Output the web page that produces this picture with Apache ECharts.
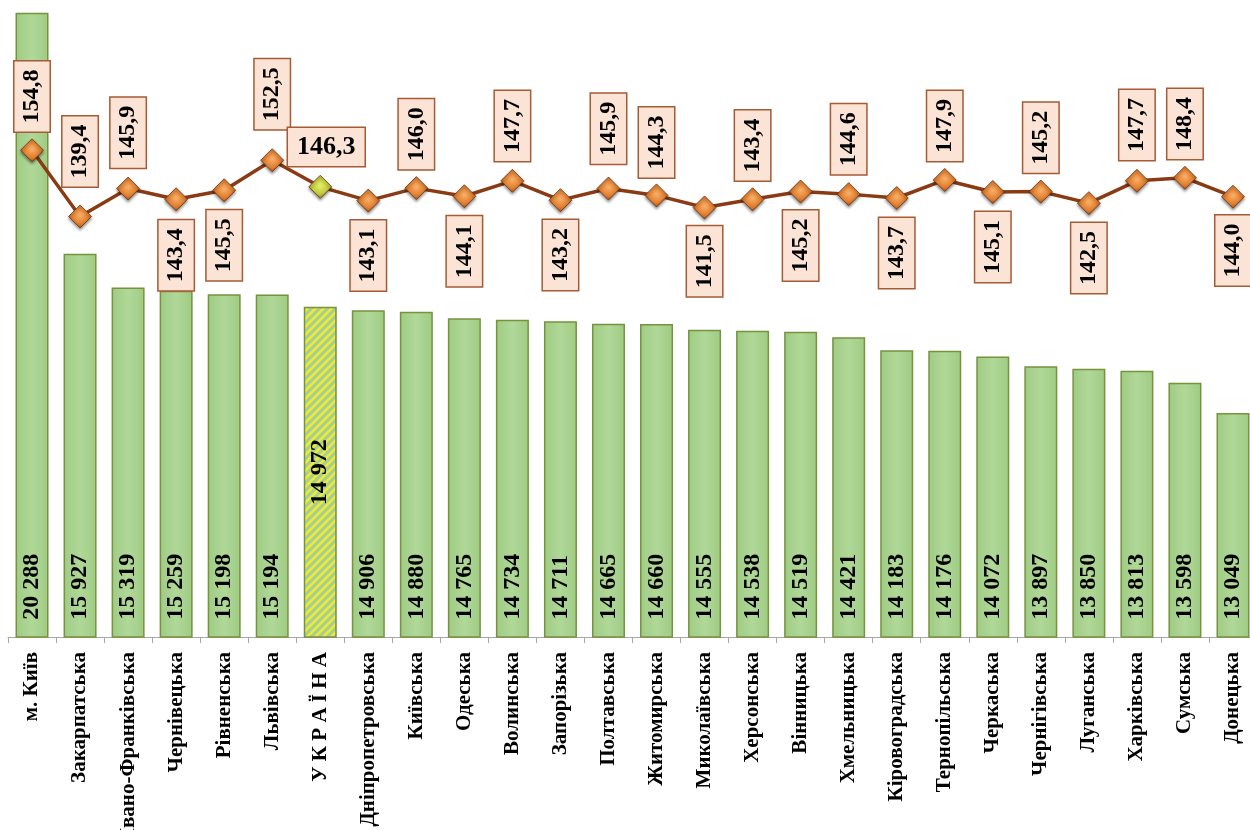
<!DOCTYPE html>
<html>
<head>
<meta charset="utf-8">
<script src="https://cdn.jsdelivr.net/npm/echarts@6/dist/echarts.min.js"></script>
<style>
html,body{margin:0;padding:0;background:#fff;}
#chart{width:1250px;height:830px;}
</style>
</head>
<body>
<div id="chart"></div>
<script>
const categories = ['м. Київ','Закарпатська','Івано-Франківська','Чернівецька','Рівненська','Львівська','У К Р А Ї Н А','Дніпропетровська','Київська','Одеська','Волинська','Запорізька','Полтавська','Житомирська','Миколаївська','Херсонська','Вінницька','Хмельницька','Кіровоградська','Тернопільська','Черкаська','Чернігівська','Луганська','Харківська','Сумська','Донецька'];
const barValues = [20288,15927,15319,15259,15198,15194,14972,14906,14880,14765,14734,14711,14665,14660,14555,14538,14519,14421,14183,14176,14072,13897,13850,13813,13598,13049];
const lineValues = [154.8,139.4,145.9,143.4,145.5,152.5,146.3,143.1,146.0,144.1,147.7,143.2,145.9,144.3,141.5,143.4,145.2,144.6,143.7,147.9,145.1,145.2,142.5,147.7,148.4,144.0];
const highlightIndex = 6; // УКРАЇНА
// label placement for the line labels (style only)
const linePlace = ['top','top','top','bottom','bottom','top','flat','bottom','top','bottom','top','bottom','top','top','bottom','top','bottom','top','bottom','top','bottom','top','bottom','top','top','bottom'];
const lineGap = [7,18,9,9,8,19,9,8,7,8,8,8,13,6,7,7,7,8,8,7,8,7,8,9,7,7];

const FONT = '"Liberation Serif","Times New Roman",serif';

function fmtInt(v){ return String(v).replace(/\B(?=(\d{3})+(?!\d))/g,' '); }
function fmtDec(v){ return v.toFixed(1).replace('.',','); }

// hatched pattern for Ukraine bar
const pc = document.createElement('canvas');
pc.width = 8; pc.height = 8;
const g = pc.getContext('2d');
g.fillStyle = '#a6cf90'; g.fillRect(0,0,8,8);
g.strokeStyle = '#eeea3a'; g.lineWidth = 2.6; g.lineCap='square';
g.beginPath();
g.moveTo(-1,9); g.lineTo(9,-1);
g.moveTo(-1,1); g.lineTo(1,-1);
g.moveTo(7,9); g.lineTo(9,7);
g.stroke();

const barData = barValues.map((v,i)=>{
  const item = {value:v};
  if(i===highlightIndex){
    item.itemStyle = {color:{image:pc, repeat:'repeat'}};
    item.label = {position:'inside', align:'center', verticalAlign:'middle', rotate:90, distance:0};
  }
  return item;
});

const boxLabel = {
  show:true,
  formatter:(p)=>fmtDec(p.value),
  fontFamily:FONT, fontWeight:'bold', fontSize:24, lineHeight:26, color:'#000',
  backgroundColor:'#fbe4d6', borderColor:'#a65a35', borderWidth:1.5,
  padding:[5,8,4,8]
};

const markerColor = {type:'radial', x:0.5, y:0.45, r:0.6, colorStops:[{offset:0,color:'#f9b068'},{offset:0.6,color:'#e07d2e'},{offset:1,color:'#9c4a17'}]};
const ukrMarkerColor = {type:'radial', x:0.5, y:0.45, r:0.6, colorStops:[{offset:0,color:'#e6ee6a'},{offset:0.6,color:'#bcc83a'},{offset:1,color:'#7d8a18'}]};

const lineData = lineValues.map((v,i)=>{
  const p = linePlace[i];
  const item = {value:v};
  if(p==='top'){
    item.label = {position:'top', distance:lineGap[i], align:'left', verticalAlign:'middle', rotate:90};
  } else if(p==='bottom'){
    item.label = {position:'bottom', distance:lineGap[i], align:'right', verticalAlign:'middle', rotate:90};
  } else {
    item.label = {position:'top', distance:lineGap[i], align:'center', verticalAlign:'bottom', rotate:0, offset:[6,0], fontSize:26, lineHeight:28, padding:[5,9,5,9]};
  }
  if(i===highlightIndex){
    item.itemStyle = {color:ukrMarkerColor};
  }
  return item;
});

const chart = echarts.init(document.getElementById('chart'), null, {renderer:'canvas'});
chart.setOption({
  backgroundColor:'#ffffff',
  animation:false,
  grid:{left:8, top:12, width:1249, height:625, containLabel:false, outerBoundsMode:'none'},
  xAxis:{
    type:'category', data:categories,
    axisLine:{show:true, lineStyle:{color:'#a6a6a6', width:1}},
    axisTick:{show:true, length:6, lineStyle:{color:'#a6a6a6'}},
    axisLabel:{rotate:90, margin:15, interval:0, fontFamily:FONT, fontWeight:'bold', fontSize:21, color:'#000'}
  },
  yAxis:[
    {type:'value', min:9000, max:20300, show:false, splitLine:{show:false}},
    {type:'value', min:41.5, max:187, show:false, splitLine:{show:false}}
  ],
  series:[
    {
      type:'bar', yAxisIndex:0, data:barData, barWidth:33,
      itemStyle:{color:{type:'linear',x:0,y:0,x2:1,y2:0,colorStops:[{offset:0,color:'#9fcb84'},{offset:0.5,color:'#b0d898'},{offset:1,color:'#9fcb84'}]}, borderColor:'#77933c', borderWidth:1.5},
      label:{show:true, position:'insideBottom', distance:18, rotate:90, align:'left', verticalAlign:'middle',
        formatter:(p)=>fmtInt(p.value), fontFamily:FONT, fontWeight:'bold', fontSize:24, color:'#000'},
      z:2
    },
    {
      type:'line', yAxisIndex:1, data:lineData,
      lineStyle:{color:'#8a3b14', width:3.5},
      symbol:'diamond', symbolSize:23,
      itemStyle:{color:markerColor, borderColor:'#6e3210', borderWidth:0.8, shadowBlur:3, shadowColor:'rgba(0,0,0,0.45)', shadowOffsetY:2},
      label:boxLabel,
      z:5
    }
  ]
});
</script>
</body>
</html>
